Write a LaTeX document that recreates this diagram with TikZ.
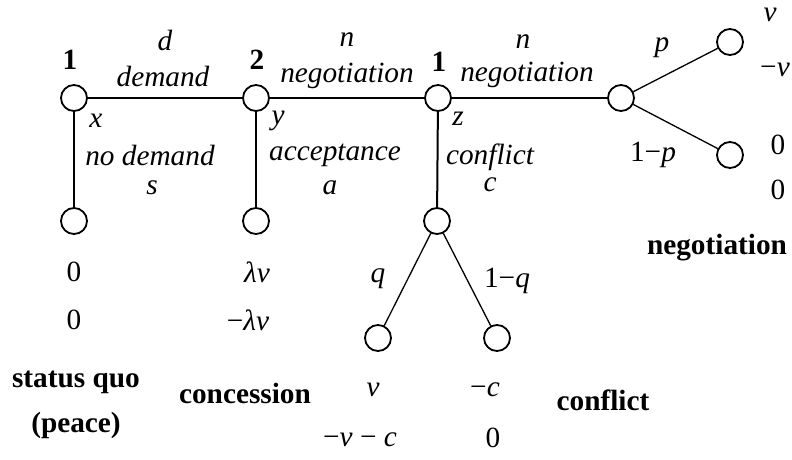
\documentclass[tikz,border=0pt]{standalone}
\usepackage{fontspec}
\setmainfont{Liberation Serif}
\begin{document}
\begin{tikzpicture}[x=1pt,y=-1pt,
  every node/.style={font=\fontsize{29.3}{33}\selectfont, inner sep=0pt},
  dn/.style={circle, draw, line width=1.8pt, minimum size=26pt, inner sep=0pt},
  main/.style={line width=2pt},
  thin/.style={line width=1.3pt},
  lbl/.style={font=\fontsize{29.3}{33}\selectfont\itshape},
  pl/.style={font=\fontsize{29.3}{33}\selectfont\bfseries},
  pay/.style={font=\fontsize{29.3}{33}\selectfont}]
\useasboundingbox (0,0) rectangle (792,459);
% decision / chance nodes
\node[dn] (A) at (74,98) {};
\node[dn] (B) at (256,98) {};
\node[dn] (C) at (438,98) {};
\node[dn] (D) at (621,98) {};
\node[dn] (Dt) at (730,42) {};
\node[dn] (Db) at (730,155) {};
\node[dn] (Aa) at (74,221) {};
\node[dn] (Bb) at (256,221) {};
\node[dn] (Cc) at (437,221) {};
\node[dn] (El) at (378,338) {};
\node[dn] (Er) at (497,338) {};
% connectors
\draw[main] (A) -- (B);
\draw[main] (B) -- (C);
\draw[main] (C) -- (D);
\draw[main] (A) -- (Aa);
\draw[main] (B) -- (Bb);
\draw[main] (C) -- (Cc);
\draw[thin] (D) -- (Dt);
\draw[thin] (D) -- (Db);
\draw[thin] (Cc) -- (El);
\draw[thin] (Cc) -- (Er);
% player labels
\node[pl] (p1) at (70,60) {1};
\node[pl] (p2) at (257,60) {2};
\node[pl] (p3) at (439,62) {1};
% action labels
\node[lbl] (ld) at (165,40) {d};
\node[lbl] (ldem) at (163,76) {demand};
\node[lbl] (ln1) at (347,40) {n};
\node[lbl] (lneg1) at (347,76) {negotiation};
\node[lbl] (ln2) at (523,42) {n};
\node[lbl] (lneg2) at (527,75) {negotiation};
\node[lbl] (lx) at (96,121) {x};
\node[lbl] (lnod) at (150,155) {no demand};
\node[lbl] (ls) at (152,188) {s};
\node[lbl] (ly) at (278,121) {y};
\node[lbl] (lacc) at (335,155) {acceptance};
\node[lbl] (la) at (330,188) {a};
\node[lbl] (lz) at (458,119) {z};
\node[lbl] (lcon) at (490,157) {conflict};
\node[lbl] (lc) at (490,185) {c};
\node[lbl] (lp) at (662,48) {p};
\node[pay] (l1p) at (653,155) {1−\textit{p}};
\node[lbl] (lq) at (378,279) {q};
\node[pay] (l1q) at (507,281) {1−\textit{q}};
% payoffs
\node[lbl] (v1) at (770,15) {v};
\node[pay] (v2) at (775,70) {−\textit{v}};
\node[pay] (z1) at (778,145) {0};
\node[pay] (z2) at (778,190) {0};
\node[pay] (a1) at (74,272) {0};
\node[pay] (a2) at (74,320) {0};
\node[pay] (b1) at (257,272) {\textit{λv}};
\node[pay] (b2) at (248,320) {−\textit{λv}};
\node[lbl] (e1) at (373,390) {v};
\node[pay] (e2) at (360,440) {−\textit{v} − \textit{c}};
\node[pay] (f1) at (485,390) {−\textit{c}};
\node[pay] (f2) at (493,438) {0};
% outcome labels
\node[pl] (o1) at (76,382) {status quo};
\node[pl] (o1b) at (76,425) {(peace)};
\node[pl] (o2) at (245,393) {concession};
\node[pl] (o3) at (603,400) {conflict};
\node[pl] (o4) at (717,248) {negotiation};
\end{tikzpicture}
\end{document}
